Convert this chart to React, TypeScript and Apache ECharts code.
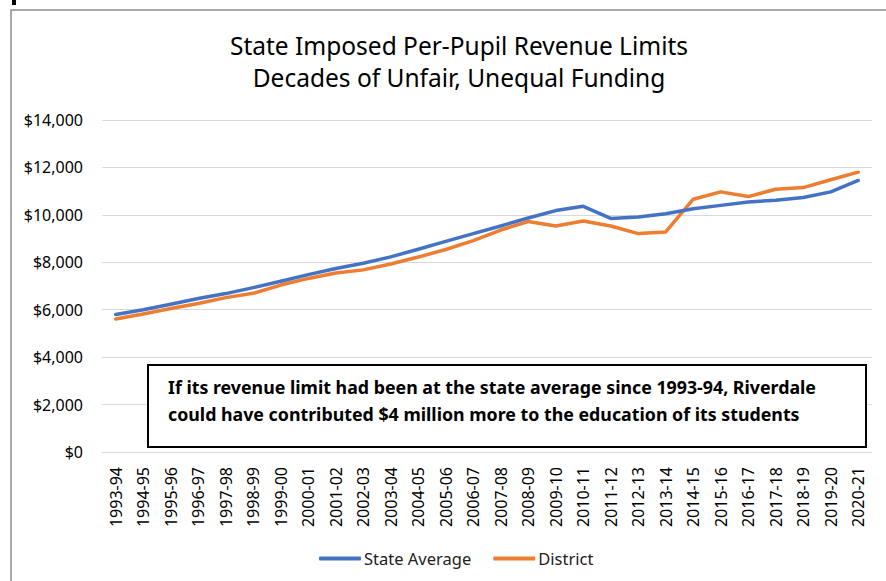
import React, { useEffect, useRef } from "react";
import * as echarts from "echarts";

const categories = [
  "1993-94", "1994-95", "1995-96", "1996-97", "1997-98", "1998-99", "1999-00",
  "2000-01", "2001-02", "2002-03", "2003-04", "2004-05", "2005-06", "2006-07",
  "2007-08", "2008-09", "2009-10", "2010-11", "2011-12", "2012-13", "2013-14",
  "2014-15", "2015-16", "2016-17", "2017-18", "2018-19", "2019-20", "2020-21",
];

const stateAverage = [
  5800, 6000, 6230, 6470, 6680, 6930, 7200, 7480, 7740, 7960, 8230, 8550, 8880, 9210,
  9530, 9870, 10180, 10360, 9850, 9910, 10050, 10260, 10400, 10540, 10620, 10730, 10970, 11450,
];

const district = [
  5610, 5820, 6050, 6260, 6510, 6690, 7040, 7320, 7550, 7680, 7930, 8220, 8540, 8910,
  9360, 9720, 9530, 9740, 9530, 9210, 9280, 10660, 10970, 10770, 11080, 11150, 11480, 11800,
];

const titleLines = [
  "State Imposed Per-Pupil Revenue Limits",
  "Decades of Unfair, Unequal Funding",
];

const noteLines = [
  "If its revenue limit had been at the state average since 1993-94, Riverdale",
  "could have contributed $4 million more to the education of its students",
];

const FONT = "'Noto Sans', sans-serif";

export default function App() {
  const ref = useRef<HTMLDivElement>(null);

  useEffect(() => {
    if (!ref.current) return;
    const chart = echarts.init(ref.current, null, { renderer: "svg" });
    chart.setOption({
      animation: false,
      backgroundColor: "#ffffff",
      title: {
        text: titleLines.join("\n"),
        left: 454,
        top: 24,
        textAlign: "center",
        textStyle: {
          fontFamily: FONT,
          fontSize: 24.5,
          fontWeight: "normal",
          color: "#000000",
          lineHeight: 32,
        },
      },
      legend: {
        left: 314,
        top: 545,
        itemWidth: 42,
        itemHeight: 4,
        itemGap: 22,
        icon: "roundRect",
        textStyle: { fontFamily: FONT, fontSize: 16.5, color: "#222222", padding: [0, 0, 0, -2] },
        data: ["State Average", "District"],
      },
      grid: { left: 102, right: 14, top: 120, bottom: 129, containLabel: false },
      xAxis: {
        type: "category",
        data: categories,
        boundaryGap: true,
        axisLine: { lineStyle: { color: "#d9d9d9", width: 1 } },
        axisTick: { show: false },
        axisLabel: {
          rotate: 90,
          margin: 15,
          fontFamily: FONT,
          fontSize: 16,
          color: "#000000",
          interval: 0,
        },
      },
      yAxis: {
        type: "value",
        min: 0,
        max: 14000,
        interval: 2000,
        axisLine: { show: false },
        axisTick: { show: false },
        splitLine: { lineStyle: { color: "#d9d9d9", width: 1 } },
        axisLabel: {
          margin: 19,
          fontFamily: FONT,
          fontSize: 16,
          color: "#000000",
          formatter: (v: number) => "$" + v.toLocaleString("en-US"),
        },
      },
      series: [
        {
          name: "State Average",
          type: "line",
          data: stateAverage,
          symbol: "none",
          lineStyle: { color: "#4472C4", width: 3.5, cap: "round", join: "round" },
          itemStyle: { color: "#4472C4" },
          z: 3,
        },
        {
          name: "District",
          type: "line",
          data: district,
          symbol: "none",
          lineStyle: { color: "#ED7D31", width: 3.5, cap: "round", join: "round" },
          itemStyle: { color: "#ED7D31" },
          z: 2,
        },
      ],
      graphic: [
        {
          type: "rect",
          shape: { x: 11, y: 10, width: 890, height: 600 },
          style: { fill: "none", stroke: "#8c8c8c", lineWidth: 1.5 },
          z: 0,
          silent: true,
        },
        {
          type: "rect",
          shape: { x: 12, y: 0, width: 4, height: 5 },
          style: { fill: "#000000" },
          silent: true,
        },
        {
          type: "rect",
          shape: { x: 148, y: 365, width: 718, height: 82 },
          style: { fill: "#ffffff", stroke: "#000000", lineWidth: 2 },
          z: 10,
          silent: true,
        },
        {
          type: "text",
          x: 168,
          y: 373,
          z: 11,
          silent: true,
          style: {
            text: noteLines.join("\n"),
            fontFamily: FONT,
            fontSize: 17.8,
            fontWeight: "bold",
            lineHeight: 27,
            fill: "#000000",
          },
        },
      ],
    });
    return () => chart.dispose();
  }, []);

  return (
    <div
      ref={ref}
      style={{ position: "fixed", left: 0, top: 0, width: 886, height: 581 }}
    />
  );
}
